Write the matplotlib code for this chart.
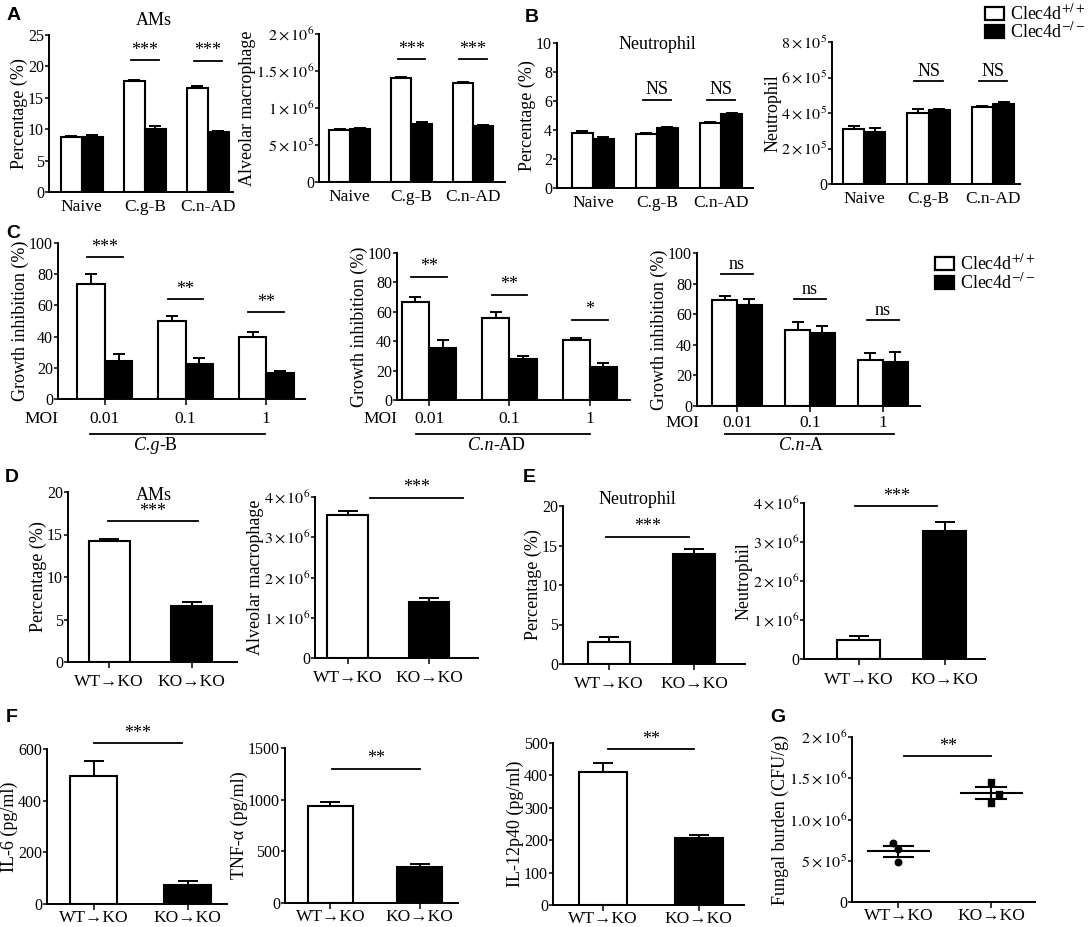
import numpy as np
import matplotlib
matplotlib.use('Agg')
import matplotlib.pyplot as plt
from matplotlib.patches import Rectangle

plt.rcParams['font.family'] = ['Liberation Serif', 'DejaVu Serif']
plt.rcParams['mathtext.fontset'] = 'stix'

# ---- data ----
ab_groups = ['Naive', 'C.g-B', 'C.n-AD']

a_pct_wt, a_pct_wt_err = [8.7, 17.6, 16.6], [0.2, 0.3, 0.2]
a_pct_ko, a_pct_ko_err = [8.8, 10.1, 9.5], [0.2, 0.4, 0.15]
a_num_wt, a_num_wt_err = [0.70e6, 1.41e6, 1.34e6], [0.02e6, 0.015e6, 0.015e6]
a_num_ko, a_num_ko_err = [0.72e6, 0.79e6, 0.76e6], [0.015e6, 0.02e6, 0.01e6]
a_sig = ['', '***', '***']

b_pct_wt, b_pct_wt_err = [3.8, 3.7, 4.45], [0.1, 0.08, 0.1]
b_pct_ko, b_pct_ko_err = [3.4, 4.15, 5.1], [0.1, 0.05, 0.1]
b_num_wt, b_num_wt_err = [3.1e5, 4.0e5, 4.35e5], [0.15e5, 0.2e5, 0.05e5]
b_num_ko, b_num_ko_err = [2.95e5, 4.15e5, 4.5e5], [0.2e5, 0.1e5, 0.1e5]
b_sig = ['', 'NS', 'NS']

c_moi = ['0.01', '0.1', '1']
c_cgb_wt, c_cgb_wt_err = [74, 50, 39.5], [6, 3, 3.5]
c_cgb_ko, c_cgb_ko_err = [24.5, 22.5, 16.5], [4.5, 3.5, 1.5]
c_cgb_sig, c_cgb_sig_y = ['***', '**', '**'], [91, 64, 55.5]
c_cnad_wt, c_cnad_wt_err = [67, 56, 41], [3, 4, 1.5]
c_cnad_ko, c_cnad_ko_err = [35.5, 28, 22.5], [5, 2, 2.5]
c_cnad_sig, c_cnad_sig_y = ['**', '**', '*'], [84, 71.6, 54.5]
c_cna_wt, c_cna_wt_err = [69, 49.8, 29.8], [3, 5, 5]
c_cna_ko, c_cna_ko_err = [66.3, 47.6, 28.5], [3.5, 5, 6.5]
c_cna_sig, c_cna_sig_y = ['ns', 'ns', 'ns'], [86, 70, 56]

chim = ['WT→KO', 'KO→KO']
d_pct, d_pct_err = [14.2, 6.6], [0.3, 0.5]
d_num, d_num_err = [3.55e6, 1.40e6], [0.1e6, 0.1e6]
e_pct, e_pct_err = [2.75, 13.9], [0.7, 0.6]
e_num, e_num_err = [0.49e6, 3.29e6], [0.1e6, 0.23e6]
f_il6, f_il6_err = [497, 73], [56, 16]
f_tnf, f_tnf_err = [939, 351], [35, 26]
f_il12, f_il12_err = [411, 207.5], [26, 7.5]
g_wt = [7.1e5, 6.4e5, 4.9e5]
g_ko = [1.46e6, 1.31e6, 1.20e6]

tl_2e6 = ['0', r'$5\times10^{5}$', r'$1\times10^{6}$', r'$1.5\times10^{6}$', r'$2\times10^{6}$']
tl_8e5 = ['0', r'$2\times10^{5}$', r'$4\times10^{5}$', r'$6\times10^{5}$', r'$8\times10^{5}$']
tl_4e6 = ['0', r'$1\times10^{6}$', r'$2\times10^{6}$', r'$3\times10^{6}$', r'$4\times10^{6}$']
tl_g = ['0', r'$5\times10^{5}$', r'$1.0\times10^{6}$', r'$1.5\times10^{6}$', r'$2\times10^{6}$']
leg_labels = [r'Clec4d$^{+/+}$', r'Clec4d$^{-/-}$']

W, H = 1088, 927
fig = plt.figure(figsize=(W / 100, H / 100), dpi=100)
TICK = 11.5
LAB = 13


def new_ax(x0, y0, x1, y1):
    # pixel box of the plotting area (y0 = top tick, y1 = baseline)
    ax = fig.add_axes([x0 / W, 1 - y1 / H, (x1 - x0) / W, (y1 - y0) / H])
    ax.patch.set_alpha(0)
    for s in ['top', 'right']:
        ax.spines[s].set_visible(False)
    for s in ['left', 'bottom']:
        ax.spines[s].set_linewidth(1.4)
    ax.tick_params(direction='out', length=3, width=1.1, labelsize=TICK, pad=0.5)
    return ax


def sig_mark(ax, x0, x1, h, txt, size=13):
    ax.plot([x0, x1], [h, h], color='black', lw=1.3, clip_on=False)
    ax.annotate(txt, ((x0 + x1) / 2, h), xytext=(0, 1), textcoords='offset points',
                ha='center', va='bottom', fontsize=size, annotation_clip=False)


def paired(ax, groups, wt, wt_err, ko, ko_err, yticks, yticklabels, ylabel,
           sig, sig_y, xlim, w=0.33, half=0.22, xticks=False):
    x = np.arange(len(groups))
    ax.bar(x - w / 2, wt, w, color='white', edgecolor='black', linewidth=1.5, zorder=3)
    ax.bar(x + w / 2, ko, w, color='black', edgecolor='black', linewidth=1.5, zorder=3)
    ax.errorbar(x - w / 2, wt, yerr=[np.zeros(len(wt)), wt_err], fmt='none', ecolor='black',
                elinewidth=1.4, capsize=4.5, capthick=1.4, zorder=2)
    ax.errorbar(x + w / 2, ko, yerr=[np.zeros(len(ko)), ko_err], fmt='none', ecolor='black',
                elinewidth=1.4, capsize=4.5, capthick=1.4, zorder=2)
    ax.set_xlim(xlim)
    ax.set_ylim(0, yticks[-1])
    ax.set_yticks(yticks)
    ax.set_yticklabels(yticklabels)
    ax.set_ylabel(ylabel, fontsize=LAB, labelpad=0)
    ax.set_xticks(x)
    if xticks:
        ax.set_xticklabels([])
        ax.tick_params(axis='x', length=4)
    else:
        ax.set_xticklabels(groups, fontsize=12.5)
        ax.tick_params(axis='x', length=0, pad=5)
    for xi, s, h in zip(x, sig, sig_y):
        if s:
            sig_mark(ax, xi - half, xi + half, h, s)


def single(ax, cats, vals, errs, yticks, yticklabels, ylabel, xlim, sig_span, sig_y, sig,
           w=0.5, xpad=5):
    x = np.arange(len(cats))
    ax.bar(x, vals, w, color=['white', 'black'], edgecolor='black', linewidth=1.5, zorder=3)
    ax.errorbar(x, vals, yerr=[np.zeros(len(vals)), errs], fmt='none', ecolor='black',
                elinewidth=1.4, capsize=7, capthick=1.4, zorder=2)
    ax.set_xlim(xlim)
    ax.set_ylim(0, yticks[-1])
    ax.set_yticks(yticks)
    ax.set_yticklabels(yticklabels)
    ax.set_ylabel(ylabel, fontsize=LAB, labelpad=0)
    ax.set_xticks(x)
    ax.set_xticklabels(cats, fontsize=12.5)
    ax.tick_params(axis='x', length=4, pad=xpad)
    sig_mark(ax, sig_span[0], sig_span[1], sig_y, sig)


def legend_box(px, py, size, row_gap=18):
    # hand-made legend: open / filled square + label, in figure pixels
    for k, (fc, lab) in enumerate(zip(['white', 'black'], leg_labels)):
        yc = py + k * row_gap
        fig.add_artist(Rectangle((px / W, 1 - (yc + 6.5) / H), 19 / W, 13 / H,
                                 transform=fig.transFigure, facecolor=fc,
                                 edgecolor='black', linewidth=1.6))
        fig.text((px + 25) / W, 1 - yc / H, lab, ha='left', va='center', fontsize=size)


# ---- A ----
ax = new_ax(49, 35, 233, 192)
paired(ax, ab_groups, a_pct_wt, a_pct_wt_err, a_pct_ko, a_pct_ko_err, [0, 5, 10, 15, 20, 25],
       ['0', '5', '10', '15', '20', '25'], 'Percentage (%)', a_sig, [None, 21, 20.9], (-0.52, 2.4))
ax.text(0.57, 1.09, 'AMs', transform=ax.transAxes, ha='center', va='center', fontsize=LAB)

ax = new_ax(319, 34, 505, 182)
paired(ax, ab_groups, a_num_wt, a_num_wt_err, a_num_ko, a_num_ko_err, [0, 5e5, 1e6, 1.5e6, 2e6],
       tl_2e6, 'Alveolar macrophage', a_sig, [None, 1.66e6, 1.66e6], (-0.5, 2.52))

# ---- B ----
ax = new_ax(557, 43, 753, 188)
paired(ax, ab_groups, b_pct_wt, b_pct_wt_err, b_pct_ko, b_pct_ko_err, [0, 2, 4, 6, 8, 10],
       ['0', '2', '4', '6', '8', '10'], 'Percentage (%)', b_sig, [None, 6.1, 6.1], (-0.56, 2.5))
ax.text(0.51, 0.99, 'Neutrophil', transform=ax.transAxes, ha='center', va='center', fontsize=LAB)

ax = new_ax(832, 42, 1020, 184)
paired(ax, ab_groups, b_num_wt, b_num_wt_err, b_num_ko, b_num_ko_err, [0, 2e5, 4e5, 6e5, 8e5],
       tl_8e5, 'Neutrophil', b_sig, [None, 5.8e5, 5.8e5], (-0.5, 2.42))

legend_box(985, 13, 13)

# ---- C ----
c_panels = [
    ((58, 243, 305, 399), c_cgb_wt, c_cgb_wt_err, c_cgb_ko, c_cgb_ko_err, c_cgb_sig, c_cgb_sig_y,
     (-0.58, 2.48), ('C.g', '-B'), (-0.18, 1.98), 0.68, 419),
    ((397, 253, 630, 400), c_cnad_wt, c_cnad_wt_err, c_cnad_ko, c_cnad_ko_err, c_cnad_sig, c_cnad_sig_y,
     (-0.4, 2.5), ('C.n', '-AD'), (-0.16, 2.0), 0.8, 419),
    ((697, 253, 920, 406), c_cna_wt, c_cna_wt_err, c_cna_ko, c_cna_ko_err, c_cna_sig, c_cna_sig_y,
     (-0.55, 2.51), ('C.n', '-A'), (-0.16, 2.15), 0.92, 423),
]
for box, wt, wte, ko, koe, sig, sigy, xl, strain, uline, lab_x, moi_y in c_panels:
    ax = new_ax(*box)
    paired(ax, c_moi, wt, wte, ko, koe, [0, 20, 40, 60, 80, 100],
           ['0', '20', '40', '60', '80', '100'], 'Growth inhibition (%)', sig, sigy, xl,
           w=0.34, half=0.22, xticks=True)
    hgt = box[3] - box[1]
    frac = lambda ypix: (box[3] - ypix) / hgt
    tr = ax.get_xaxis_transform()
    for xi, lab in enumerate(c_moi):
        ax.text(xi, frac(moi_y), lab, transform=tr, ha='center', va='center', fontsize=12.5)
    ax.text(xl[0] - 0.2, frac(moi_y), 'MOI', transform=tr, ha='center', va='center', fontsize=12.5)
    ax.plot(uline, [frac(434)] * 2, transform=tr, color='black', lw=1.3, clip_on=False)
    ax.text(lab_x, frac(446), strain[0], transform=tr, ha='right', va='center',
            fontsize=13, style='italic')
    ax.text(lab_x, frac(446), strain[1], transform=tr, ha='left', va='center', fontsize=13)

legend_box(935, 263, 13, row_gap=19)

# ---- D ----
ax = new_ax(68, 492, 237, 662)
single(ax, chim, d_pct, d_pct_err, [0, 5, 10, 15, 20], ['0', '5', '10', '15', '20'], 'Percentage (%)',
       (-0.5, 1.55), (-0.02, 1.08), 16.6, '***')
ax.text(0.51, 0.98, 'AMs', transform=ax.transAxes, ha='center', va='center', fontsize=LAB)

ax = new_ax(315, 497, 478, 658)
single(ax, chim, d_num, d_num_err, [0, 1e6, 2e6, 3e6, 4e6], tl_4e6, 'Alveolar macrophage',
       (-0.4, 1.6), (0.28, 1.41), 3.98e6, '***')

# ---- E ----
ax = new_ax(563, 506, 745, 664)
single(ax, chim, e_pct, e_pct_err, [0, 5, 10, 15, 20], ['0', '5', '10', '15', '20'], 'Percentage (%)',
       (-0.54, 1.6), (-0.04, 0.94), 16.1, '***')
ax.text(0.41, 1.04, 'Neutrophil', transform=ax.transAxes, ha='center', va='center', fontsize=LAB)

ax = new_ax(804, 503, 985, 659)
single(ax, chim, e_num, e_num_err, [0, 1e6, 2e6, 3e6, 4e6], tl_4e6, 'Neutrophil',
       (-0.64, 1.47), (-0.04, 0.91), 3.92e6, '***')

# ---- F ----
ax = new_ax(47, 749, 227, 904)
single(ax, chim, f_il6, f_il6_err, [0, 200, 400, 600], ['0', '200', '400', '600'], 'IL-6 (pg/ml)',
       (-0.5, 1.42), (0.0, 0.94), 622, '***', xpad=0.5)

ax = new_ax(285, 748, 458, 903)
single(ax, chim, f_tnf, f_tnf_err, [0, 500, 1000, 1500], ['0', '500', '1000', '1500'], 'TNF-α (pg/ml)',
       (-0.51, 1.43), (0.02, 1.0), 1299, '**', xpad=0.5)

ax = new_ax(553, 743, 744, 905)
single(ax, chim, f_il12, f_il12_err, [0, 100, 200, 300, 400, 500],
       ['0', '100', '200', '300', '400', '500'], 'IL-12p40 (pg/ml)',
       (-0.52, 1.47), (0.05, 0.95), 480, '**', xpad=0.5)

# ---- G ----
ax = new_ax(852, 737, 1035, 902)
g_offsets = [[-0.06, 0, 0], [0, 0.08, 0]]
g_markers = ['o', 's']
for i, pts in enumerate([g_wt, g_ko]):
    pts = np.array(pts)
    m = pts.mean()
    sem = pts.std(ddof=1) / np.sqrt(len(pts))
    ax.plot([i - 0.33, i + 0.33], [m, m], color='black', lw=1.5, zorder=2)
    ax.plot([i - 0.16, i + 0.16], [m + sem] * 2, color='black', lw=1.5, zorder=2)
    ax.plot([i - 0.16, i + 0.16], [m - sem] * 2, color='black', lw=1.5, zorder=2)
    ax.plot([i, i], [m - sem, m + sem], color='black', lw=1.5, zorder=2)
    ax.scatter(i + np.array(g_offsets[i]), pts, marker=g_markers[i], s=22, color='black', zorder=3)
ax.set_xlim(-0.5, 1.47)
ax.set_ylim(0, 2e6)
ax.set_yticks([0, 5e5, 1e6, 1.5e6, 2e6])
ax.set_yticklabels(tl_g)
ax.set_ylabel('Fungal burden (CFU/g)', fontsize=LAB, labelpad=0)
ax.set_xticks([0, 1])
ax.set_xticklabels(chim, fontsize=12.5)
ax.tick_params(axis='x', length=4, pad=0.5)
sig_mark(ax, 0.06, 1.0, 1.77e6, '**')

# ---- panel letters ----
for lab, px, py in [('A', 14, 16), ('B', 532, 17), ('C', 13, 233), ('D', 12, 478),
                    ('E', 529, 477), ('F', 12, 718), ('G', 778, 717)]:
    fig.text(px / W, 1 - py / H, lab, ha='center', va='center', fontsize=14,
             fontweight='bold', family='Liberation Sans')

fig.savefig('out.png', dpi=100)
